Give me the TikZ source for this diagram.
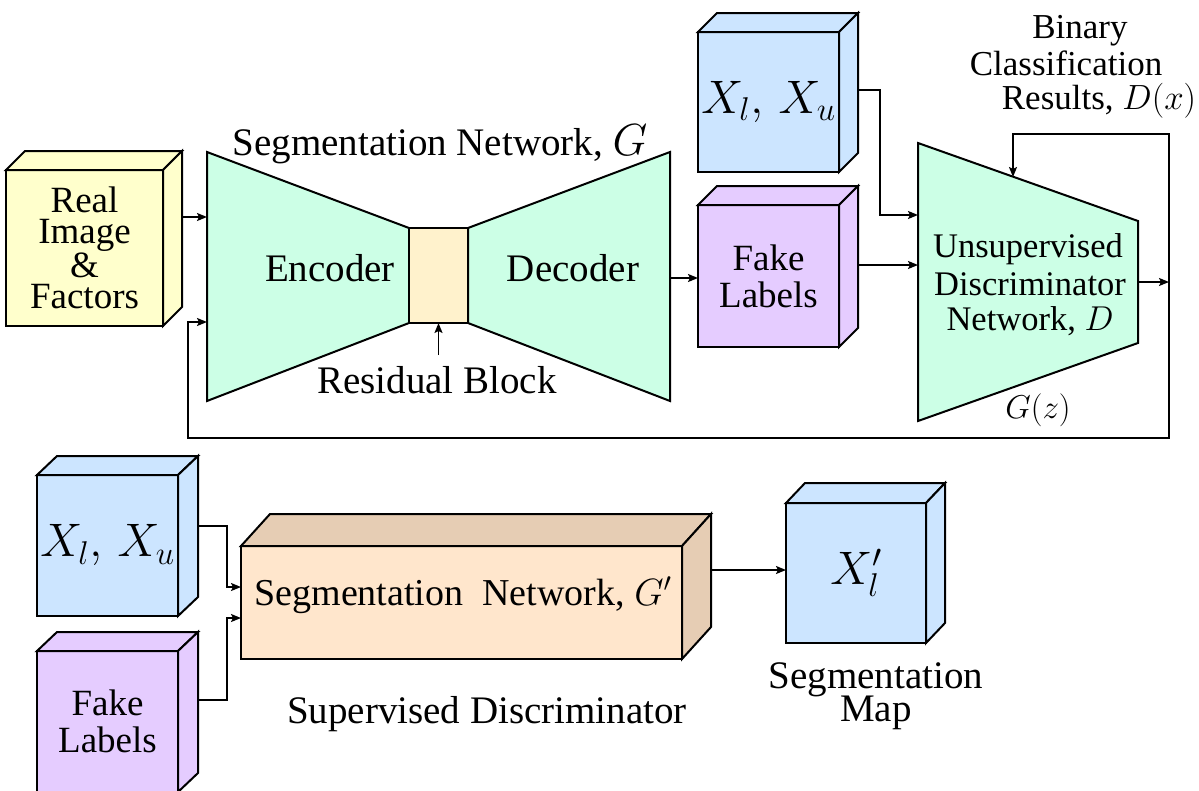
\RequirePackage{fix-cm}
\documentclass[tikz,border=0pt]{standalone}
\usepackage{fontspec}
\setmainfont{LiberationSerif}[Extension=.ttf, UprightFont=*-Regular, BoldFont=*-Bold, ItalicFont=*-Italic]
\usetikzlibrary{arrows.meta,calc}
\definecolor{cgreen}{HTML}{CCFFE6}
\definecolor{cyel}{HTML}{FFFFCC}
\definecolor{cres}{HTML}{FFF2CC}
\definecolor{cblue}{HTML}{CCE5FF}
\definecolor{cpurp}{HTML}{E5CCFF}
\definecolor{ctan}{HTML}{FFE6CC}
\definecolor{ctand}{HTML}{E6CDB4}
\newcommand{\cubefaces}[5]{%
  \filldraw[shp, fill=#4] (#1.north west) -- ++(#2,-#3) -- ($(#1.north east)+(#2,-#3)$) -- (#1.north east) -- cycle;
  \filldraw[shp, fill=#5] (#1.north east) -- ++(#2,-#3) -- ($(#1.south east)+(#2,-#3)$) -- (#1.south east) -- cycle;}
\begin{document}
\begin{tikzpicture}[x=1pt,y=-1pt,
  shp/.style={draw=black,line width=2pt,line join=miter},
  face/.style={shp, rectangle, inner sep=0pt, outer sep=0pt, anchor=north west, align=center},
  arr/.style={line width=1.8pt,-{Stealth[length=10pt,width=8pt,inset=2pt]}},
  tf/.style={font=\fontsize{39}{39}\selectfont, inner sep=0pt, anchor=base},
  ts/.style={font=\fontsize{35}{35}\selectfont, inner sep=0pt, anchor=base},
  mf/.style={font=\fontsize{47}{47}\selectfont}]
\useasboundingbox (0,0) rectangle (1199,790);

% ---- top row ----
\node[face, fill=cyel, minimum width=157pt, minimum height=156pt, font=\fontsize{37}{31.5}\selectfont] (real) at (6,170) {Real\\Image\\\&\\Factors};
\cubefaces{real}{19}{19}{cyel}{cyel}

\filldraw[shp, fill=cgreen] (207,152) -- (409,228) -- (409,323) -- (207,401) -- cycle;
\node[face, fill=cres, minimum width=59pt, minimum height=95pt] (res) at (409,228) {};
\filldraw[shp, fill=cgreen] (468,228) -- (670,152) -- (670,401) -- (468,323) -- cycle;
\coordinate (encin1) at (207,217);
\coordinate (encin2) at (207,322);
\coordinate (decout) at (670,278);
\coordinate (realout) at (182,217);

\node[tf] (segG) at (440,155) {Segmentation Network, {\fontsize{45}{45}\selectfont$G$}};
\node[tf] (enc) at (330,281) {Encoder};
\node[tf] (dec) at (573,281) {Decoder};
\node[tf] (resl) at (437,393) {Residual Block};

\node[face, fill=cblue, minimum width=141pt, minimum height=140pt, mf] (xl1) at (698,32) {$X_l,\,X_u$};
\cubefaces{xl1}{19}{19}{cblue}{cblue}
\node[face, fill=cpurp, minimum width=141pt, minimum height=142pt, font=\fontsize{37}{37}\selectfont] (fk1) at (698,205) {Fake\\Labels};
\cubefaces{fk1}{19}{19}{cpurp}{cpurp}
\coordinate (xl1out) at (858,90);
\coordinate (fk1out) at (858,265);

\filldraw[shp, fill=cgreen] (918,143) -- (1138,221) -- (1138,343) -- (918,421) -- cycle;
\coordinate (Din1) at (918,215);
\coordinate (Din2) at (918,265);
\coordinate (Dout) at (1138,282);
\coordinate (Dtop) at (1013,177);
\coordinate (j) at (1169,282);
\node[ts, font=\fontsize{34.5}{34.5}\selectfont] (un1) at (1028,257) {Unsupervised};
\node[ts, font=\fontsize{34.5}{34.5}\selectfont] (un2) at (1030,295) {Discriminator};
\node[ts, font=\fontsize{34.5}{34.5}\selectfont] (un3) at (1030,330) {Network, $D$};
\node[ts, font=\fontsize{33}{33}\selectfont] (gz) at (1038,418) {$G(z)$};
\node[ts] (bin1) at (1080,38) {Binary};
\node[ts] (bin2) at (1066,75) {Classification};
\node[ts] (bin3) at (1099,109) {Results, $D(x)$};

% top connectors
\draw[arr] (realout) -- (encin1);
\draw[arr] ([yshift=-32pt]res.south) -- (res.south);
\draw[arr] (decout) -- (decout -| fk1.west);
\draw[arr] (xl1out) -- ++(22,0) |- (Din1);
\draw[arr] (fk1out) -- (Din2);
\draw[arr] (Dout) -- (j);
\draw[arr] (j) -- (1169,134) -| (Dtop);
\draw[arr] (j) -- (1169,438) -| (188,322) -- (encin2);

% ---- bottom row ----
\node[face, fill=cblue, minimum width=141pt, minimum height=141pt, mf] (xl2) at (37,475) {$X_l,\,X_u$};
\cubefaces{xl2}{20}{19}{cblue}{cblue}
\node[face, fill=cpurp, minimum width=141pt, minimum height=141pt, font=\fontsize{37}{37}\selectfont] (fk2) at (37,651) {Fake\\Labels};
\cubefaces{fk2}{20}{19}{cpurp}{cpurp}
\coordinate (xl2out) at (198,526);
\coordinate (fk2out) at (198,700);

\node[face, fill=ctan, minimum width=441pt, minimum height=113pt] (gp) at (241,546) {};
\cubefaces{gp}{29}{32}{ctand}{ctand}
\node[tf, font=\fontsize{38}{38}\selectfont] (gpt) at (463,605) {Segmentation\ \ Network, $G'$};
\coordinate (gin1) at (241,587);
\coordinate (gin2) at (241,618);
\coordinate (gpout) at (710,570);

\node[face, fill=cblue, minimum width=140pt, minimum height=140pt, mf] (xp) at (786,503) {$X'_l$};
\cubefaces{xp}{19}{20}{cblue}{cblue}

\node[tf] (supd) at (487,723) {Supervised Discriminator};
\node[tf] (sm1) at (876,688) {Segmentation};
\node[tf] (sm2) at (876,721) {Map};

\draw[arr] (xl2out) -- ++(29,0) |- (gin1);
\draw[arr] (fk2out) -- ++(29,0) |- (gin2);
\draw[arr] (gpout) -- (gpout -| xp.west);
\end{tikzpicture}
\end{document}
